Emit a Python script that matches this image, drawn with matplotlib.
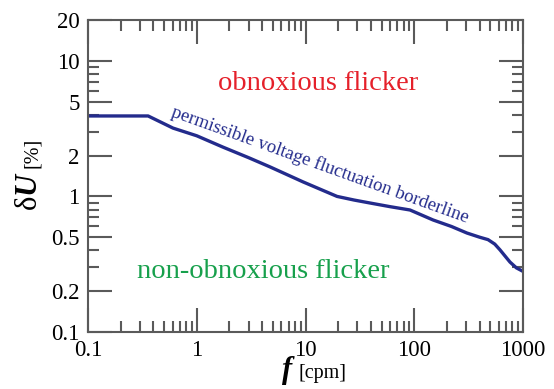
import numpy as np
import matplotlib.pyplot as plt
from matplotlib.ticker import FixedLocator, FixedFormatter, NullFormatter

plt.rcParams['font.family'] = ['Liberation Serif', 'DejaVu Serif']
plt.rcParams['mathtext.fontset'] = 'custom'
plt.rcParams['mathtext.rm'] = 'Liberation Serif'
plt.rcParams['mathtext.bf'] = 'Liberation Serif:italic:bold'

# limite de fluctuacion de tension admisible
freq = [0.1, 0.357, 0.605, 1.0, 1.74, 3.0, 4.72, 9.48, 14.0, 19.5, 28.0, 39.2, 60.0, 91.4,
        149, 220, 305, 400, 477, 550, 615, 690, 759, 870, 1000]
du = [3.92, 3.92, 3.19, 2.8, 2.31, 1.93, 1.65, 1.28, 1.12, 1.0, 0.94, 0.894, 0.84, 0.794,
      0.67, 0.6, 0.537, 0.5, 0.48, 0.445, 0.403, 0.36, 0.328, 0.297, 0.28]

xticks = [0.1, 1, 10, 100, 1000]
xlabels = ['0.1', '1', '10', '100', '1000']
yticks = [0.1, 0.2, 0.5, 1, 2, 5, 10, 20]
ylabels = ['0.1', '0.2', '0.5', '1', '2', '5', '10', '20']

fig = plt.figure(figsize=(5.54, 3.89), dpi=100)
ax = fig.add_axes([88/554, 1-332/389, 435/554, 312/389])

line_col = '#232b8c'
ax.plot(freq, du, color=line_col, lw=2.4, solid_joinstyle='round')

ax.set_xscale('log')
ax.set_yscale('log')
ax.set_xlim(0.1, 1000)
ax.set_ylim(0.1, 20)

ax.xaxis.set_major_locator(FixedLocator(xticks))
ax.xaxis.set_major_formatter(FixedFormatter(xlabels))
ax.xaxis.set_minor_locator(FixedLocator([m * d for d in [0.1, 1, 10, 100] for m in range(2, 10)]))
ax.xaxis.set_minor_formatter(NullFormatter())
ax.yaxis.set_major_locator(FixedLocator(yticks))
ax.yaxis.set_major_formatter(FixedFormatter(ylabels))
ax.yaxis.set_minor_locator(FixedLocator([0.3, 0.4, 3, 4, 0.6, 0.7, 0.8, 0.9, 6, 7, 8, 9]))
ax.yaxis.set_minor_formatter(NullFormatter())

spine_col = '#5a5a5a'
for s in ax.spines.values():
    s.set_color(spine_col)
    s.set_linewidth(1.5)
ax.tick_params(which='both', direction='in', top=True, right=True, colors=spine_col,
               labelcolor='black', labelsize=16.5)
ax.tick_params(which='major', length=17, width=1.5)
ax.tick_params(which='minor', length=8, width=1.5)
ax.tick_params(axis='x', pad=6)
ax.tick_params(axis='y', pad=6)

# textos de las regiones
fig.text(318/554, 1-90/389, 'obnoxious flicker', color='#e5202a',
         fontsize=20.5, ha='center', va='baseline')
fig.text(263/554, 1-278/389, 'non-obnoxious flicker', color='#17a04c',
         fontsize=20.5, ha='center', va='baseline')
fig.text(320/554, 1-165/389, 'permissible voltage fluctuation borderline', color=line_col,
         fontsize=13.5, rotation=-19.8, rotation_mode='anchor', ha='center', va='center')

# etiquetas de ejes
fig.text(296/554, 1-378/389, r'$\mathbf{f}$', fontsize=22, ha='right', va='baseline')
fig.text(298/554, 1-378/389, '[cpm]', fontsize=14.5, ha='left', va='baseline')
fig.text(37/554, 1-171/389, r'$\mathrm{\delta}\mathbf{U}$', fontsize=22, rotation=90,
         rotation_mode='anchor', ha='right', va='baseline')
fig.text(37/554, 1-168/389, '[%]', fontsize=14.5, rotation=90,
         rotation_mode='anchor', ha='left', va='baseline')

fig.savefig('out.png', dpi=100)
